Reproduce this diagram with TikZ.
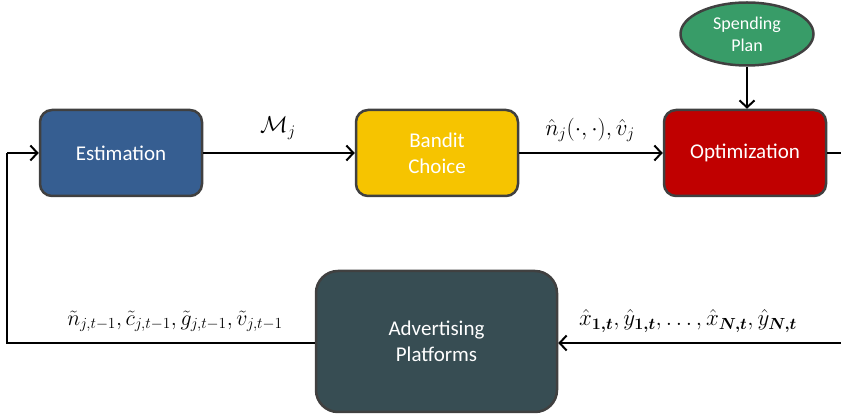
\RequirePackage{fix-cm}
\documentclass[tikz,border=0pt]{standalone}
\usepackage{fontspec}
\usepackage{amsmath}
\setsansfont{Carlito}
\usetikzlibrary{arrows.meta,shapes.geometric}
\definecolor{estblue}{RGB}{54,94,145}
\definecolor{banditgold}{RGB}{246,196,0}
\definecolor{optred}{RGB}{192,0,0}
\definecolor{plangreen}{RGB}{56,156,104}
\definecolor{platslate}{RGB}{55,77,83}
\definecolor{edgegray}{RGB}{64,64,64}
\tikzset{
  stage/.style={draw=edgegray, line width=2.5pt, rounded corners=12pt,
    minimum width=162pt, minimum height=86pt, align=center,
    text=white, font=\sffamily\fontsize{21}{26}\selectfont},
  flow/.style={line width=2pt, -{Straight Barb[length=7pt,width=15pt,line width=2pt]}},
  wire/.style={line width=2pt},
  lbl/.style={font=\fontsize{23}{26}\selectfont}
}
\begin{document}
\begin{tikzpicture}[x=1pt,y=-1pt]
\useasboundingbox (0,0) rectangle (841,419);
\node[stage, fill=estblue] (est) at (121,153) {\raisebox{-2pt}{Estimation}};
\node[stage, fill=banditgold] (band) at (437,153) {Bandit\\Choice};
\node[stage, fill=optred] (opt) at (745,153) {\raisebox{-2pt}{Optimization}};
\node[ellipse, draw=edgegray, line width=2.5pt, fill=plangreen,
  minimum width=133pt, minimum height=63pt, inner sep=0pt, align=center,
  text=white, font=\sffamily\fontsize{18}{22}\selectfont] (plan) at (747,34) {Spending\\Plan};
\node[stage, fill=platslate, minimum width=241pt, minimum height=141pt,
  rounded corners=22pt] (plat) at (436.5,341.5) {Advertising\\Platforms};
\coordinate (optout) at (841,153);
\coordinate (platin) at (841,343);
\coordinate (loopbot) at (7,343);
\coordinate (looptop) at (7,153);
\draw[flow] (est.east) -- (band.west);
\draw[flow] (band.east) -- (opt.west);
\draw[flow] (plan.south) -- (opt.north -| plan.south);
\draw[wire] (opt.east) -- (optout);
\draw[flow] (platin) -- (plat.east |- platin);
\draw[wire] (plat.west |- loopbot) -- (loopbot) -- (looptop);
\draw[flow] (looptop) -- (est.west);
\node[lbl] (mlab) at (278,128) {$\mathcal{M}_j$};
\node[lbl] (nlab) at (590,130) {$\hat{n}_j(\cdot,\cdot),\hat{v}_j$};
\node[lbl, font=\fontsize{22}{26}\selectfont] (tlab) at (175,321) {$\tilde{n}_{j,t-1},\tilde{c}_{j,t-1},\tilde{g}_{j,t-1},\tilde{v}_{j,t-1}$};
\node[lbl] (xlab) at (688,321) {$\hat{x}_{\boldsymbol{1,t}},\hat{y}_{\boldsymbol{1,t}},\ldots,\hat{x}_{\boldsymbol{N,t}},\hat{y}_{\boldsymbol{N,t}}$};
\end{tikzpicture}
\end{document}
